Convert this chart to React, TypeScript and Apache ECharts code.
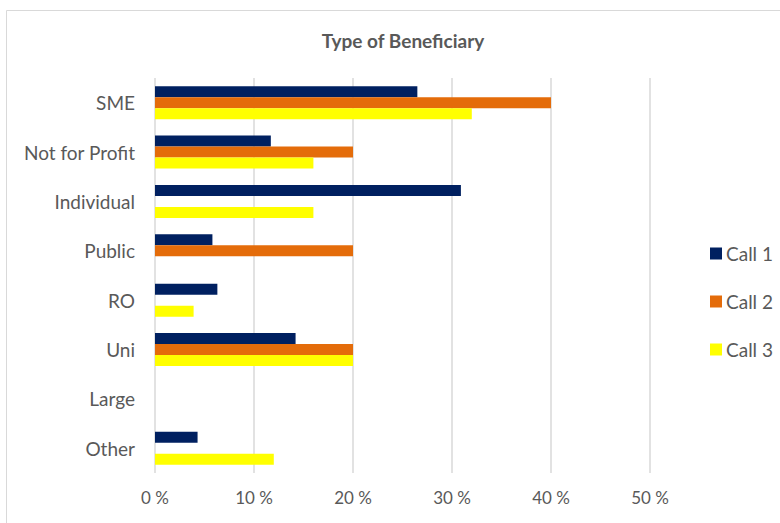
import React, { useEffect, useRef } from "react";
import * as echarts from "echarts";

const categories = ["SME", "Not for Profit", "Individual", "Public", "RO", "Uni", "Large", "Other"];
const call1 = [26.5, 11.7, 30.9, 5.8, 6.3, 14.2, 0, 4.3];
const call2 = [40, 20, 0, 20, 0, 20, 0, 0];
const call3 = [32, 16, 16, 0, 3.9, 20, 0, 12];
const seriesNames = ["Call 1", "Call 2", "Call 3"];
const colors = ["#002060", "#E46C0A", "#FFFF00"];
const xTicks = { min: 0, max: 50, interval: 10 };

export default function App() {
  const ref = useRef<HTMLDivElement>(null);
  useEffect(() => {
    if (!ref.current) return;
    const chart = echarts.init(ref.current, null, { renderer: "svg" });
    const font = "Lato, 'Open Sans', sans-serif";
    const data = [call1, call2, call3];
    chart.setOption({
      animation: false,
      backgroundColor: "#ffffff",
      textStyle: { fontFamily: font },
      title: {
        text: "Type of Beneficiary",
        left: 398,
        textAlign: "center",
        top: 26,
        textStyle: { fontSize: 19, fontWeight: "bold", color: "#595959", fontFamily: font },
      },
      graphic: [
        {
          type: "rect",
          shape: { x: 6.5, y: 10.5, width: 800, height: 600 },
          style: { fill: "none", stroke: "#d9d9d9", lineWidth: 1 },
          silent: true,
        },
      ],
      legend: {
        orient: "vertical",
        left: 705,
        top: 239,
        itemWidth: 12,
        itemHeight: 12,
        itemGap: 29,
        icon: "rect",
        textStyle: { fontSize: 19, color: "#595959", fontFamily: font, padding: [0, 0, 0, -1] },
        data: seriesNames,
      },
      grid: { left: 155, right: 130, top: 78, bottom: 50, containLabel: false },
      xAxis: {
        type: "value",
        min: xTicks.min,
        max: xTicks.max,
        interval: xTicks.interval,
        axisLine: { show: false },
        axisTick: { show: false },
        splitLine: { show: true, lineStyle: { color: "#d9d9d9", width: 1.5 } },
        axisLabel: {
          formatter: "{value} %",
          fontSize: 17,
          color: "#595959",
          margin: 16,
          fontFamily: font,
        },
      },
      yAxis: {
        type: "category",
        data: categories,
        inverse: true,
        axisLine: { show: false },
        axisTick: { show: false },
        axisLabel: { fontSize: 19, color: "#595959", margin: 20, fontFamily: font },
      },
      series: seriesNames.map((name, i) => ({
        name,
        type: "bar",
        data: data[i],
        barWidth: 11,
        barGap: "0%",
        itemStyle: { color: colors[i] },
      })),
    });
    return () => chart.dispose();
  }, []);
  return (
    <div
      ref={ref}
      style={{ position: "fixed", left: 0, top: 0, width: 780, height: 523 }}
    />
  );
}
